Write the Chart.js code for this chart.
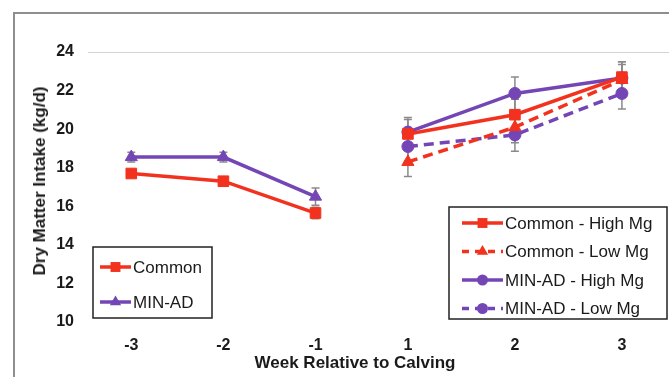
<!DOCTYPE html>
<html>
<head>
<meta charset="utf-8">
<script src="https://cdn.jsdelivr.net/npm/chart.js@4/dist/chart.umd.min.js"></script>
<style>
  body { margin: 0; width: 669px; height: 377px; overflow: hidden; background: #fff; position: relative;
         font-family: "Liberation Sans", Arial, sans-serif; }
  #frame { position: absolute; left: 13px; top: 12px; width: 700px; height: 420px; border: 2px solid #8e8e8e; }
  #left { position: absolute; left: 0; top: 0; }
  #right { position: absolute; left: 333px; top: 0; }
  .title { position: absolute; font-weight: bold; font-size: 17px; color: #1a1a1a; white-space: nowrap; }
  #xtitle { left: 355px; top: 363px; transform: translate(-50%, -50%); }
  #ytitle { left: 40px; top: 181px; transform: translate(-50%, -50%) rotate(-90deg); }
</style>
</head>
<body>
<div id="frame"></div>
<canvas id="left" width="333" height="377"></canvas>
<canvas id="right" width="336" height="377"></canvas>
<div class="title" id="xtitle">Week Relative to Calving</div>
<div class="title" id="ytitle">Dry Matter Intake (kg/d)</div>
<script>
// weeks before calving (left panel) and after calving (right panel)
const leftWeeks  = [-3, -2, -1];
const rightWeeks = [1, 2, 3];

// prepartum, by diet
const common      = [17.7, 17.3, 15.65];
const commonErr   = [0.2, 0.2, 0.3];
const minAd       = [18.55, 18.55, 16.5];
const minAdErr    = [0.25, 0.25, 0.45];

// postpartum, by diet and Mg level
const commonHigh    = [19.75, 20.75, 22.7];
const commonHighErr = [0.75, 0.8, 0.8];
const commonLow     = [18.3, 20.1, 22.55];
const commonLowErr  = [0.75, 0.8, 0.8];
const minAdHigh     = [19.85, 21.85, 22.65];
const minAdHighErr  = [0.75, 0.85, 0.85];
const minAdLow      = [19.1, 19.7, 21.85];
const minAdLowErr   = [0.75, 0.85, 0.8];

const yTicks = [10, 12, 14, 16, 18, 20, 22, 24];

const RED = '#f2321f';
const PURPLE = '#7446b5';
const FONT = '"Liberation Sans", Arial, sans-serif';
const TEXT = '#1a1a1a';

const toPoints = (weeks, vals) => weeks.map((x, i) => ({ x, y: vals[i] }));

function series(label, weeks, vals, errs, color, style, dashed) {
    const radius = { rect: 7.5, triangle: 7, circle: 6 }[style];
    return {
        label,
        data: toPoints(weeks, vals),
        errors: errs,
        borderColor: color,
        backgroundColor: color,
        borderWidth: 3.5,
        borderDash: dashed ? [10, 6] : [],
        pointStyle: style,
        pointRadius: radius,
        pointBorderWidth: 1,
        pointBackgroundColor: color,
        pointBorderColor: color,
        tension: 0
    };
}

// vertical error bars with caps
const errorBars = {
    id: 'errorBars',
    beforeDatasetsDraw(chart) {
        const { ctx, scales: { y } } = chart;
        ctx.save();
        ctx.strokeStyle = '#8a8a8a';
        ctx.lineWidth = 1.5;
        chart.data.datasets.forEach((ds, di) => {
            chart.getDatasetMeta(di).data.forEach((pt, i) => {
                const v = ds.data[i].y, e = ds.errors[i];
                const top = y.getPixelForValue(v + e), bot = y.getPixelForValue(v - e);
                ctx.beginPath();
                ctx.moveTo(pt.x, top); ctx.lineTo(pt.x, bot);
                ctx.moveTo(pt.x - 4, top); ctx.lineTo(pt.x + 4, top);
                ctx.moveTo(pt.x - 4, bot); ctx.lineTo(pt.x + 4, bot);
                ctx.stroke();
            });
        });
        ctx.restore();
    }
};

function marker(ctx, style, r, x, y) {
    ctx.beginPath();
    if (style === 'rect') {
        const s = r * Math.SQRT1_2;
        ctx.rect(x - s, y - s, 2 * s, 2 * s);
    } else if (style === 'triangle') {
        ctx.moveTo(x, y - r);
        ctx.lineTo(x + r * 0.866, y + r * 0.5);
        ctx.lineTo(x - r * 0.866, y + r * 0.5);
        ctx.closePath();
    } else {
        ctx.arc(x, y, r, 0, Math.PI * 2);
    }
    ctx.fill();
}

// boxed legend drawn inside the plot
const boxLegend = {
    id: 'boxLegend',
    afterDatasetsDraw(chart, args, o) {
        const ctx = chart.ctx;
        ctx.save();
        ctx.fillStyle = '#fff';
        ctx.fillRect(o.x, o.y, o.w, o.h);
        ctx.strokeStyle = '#222';
        ctx.lineWidth = 1.5;
        ctx.strokeRect(o.x, o.y, o.w, o.h);
        ctx.font = `17px ${FONT}`;
        ctx.textBaseline = 'middle';
        chart.data.datasets.forEach((ds, i) => {
            const cy = o.y + o.first + i * o.gap;
            const x0 = o.x + o.pad, x1 = x0 + o.line;
            ctx.strokeStyle = ds.borderColor;
            ctx.lineWidth = ds.borderWidth;
            ctx.setLineDash(ds.borderDash.length ? [7, 6] : []);
            ctx.beginPath(); ctx.moveTo(x0, cy); ctx.lineTo(x1, cy); ctx.stroke();
            ctx.setLineDash([]);
            ctx.fillStyle = ds.borderColor;
            marker(ctx, ds.pointStyle, ds.pointRadius - 0.5, (x0 + x1) / 2, cy);
            ctx.fillStyle = TEXT;
            ctx.fillText(ds.label, x1 + 2, cy + 1);
        });
        ctx.restore();
    }
};

function yAxis(visible) {
    return {
        min: 10, max: 24,
        afterBuildTicks: s => { s.ticks = yTicks.map(value => ({ value })); },
        afterFit: s => { s.width = visible ? 88 : 0; },
        ticks: { padding: 14, color: visible ? TEXT : 'rgba(0,0,0,0)',
                 font: { family: FONT, size: 16, weight: 'bold' } },
        grid: { drawTicks: false,
                color: c => c.tick && c.tick.value === 24 ? '#d4d4d4' : 'rgba(0,0,0,0)' },
        border: { display: false }
    };
}

function xAxis(weeks, min, max) {
    return {
        type: 'linear', min, max,
        afterBuildTicks: s => { s.ticks = weeks.map(value => ({ value })); },
        afterFit: s => { s.height = 55; s.paddingLeft = 0; s.paddingRight = 0; },
        ticks: { padding: 6, color: TEXT, font: { family: FONT, size: 16, weight: 'bold' } },
        grid: { display: false },
        border: { display: false }
    };
}

function makeChart(id, datasets, x, yVisible, legend) {
    return new Chart(document.getElementById(id), {
        type: 'line',
        data: { datasets },
        options: {
            responsive: false,
            animation: false,
            layout: { autoPadding: false, padding: { top: 52, left: 0, right: 0, bottom: 0 } },
            scales: { x, y: yAxis(yVisible) },
            plugins: { legend: { display: false }, tooltip: { enabled: false }, boxLegend: legend }
        },
        plugins: [errorBars, boxLegend]
    });
}

makeChart('left', [
    series('Common', leftWeeks, common, commonErr, RED, 'rect', false),
    series('MIN-AD', leftWeeks, minAd, minAdErr, PURPLE, 'triangle', false)
], xAxis(leftWeeks, -3.47, -0.81), true,
{ x: 93, y: 247, w: 119, h: 71, first: 20, gap: 35, pad: 7, line: 31 });

makeChart('right', [
    series('Common - High Mg', rightWeeks, commonHigh, commonHighErr, RED, 'rect', false),
    series('Common - Low Mg', rightWeeks, commonLow, commonLowErr, RED, 'triangle', true),
    series('MIN-AD - High Mg', rightWeeks, minAdHigh, minAdHighErr, PURPLE, 'circle', false),
    series('MIN-AD - Low Mg', rightWeeks, minAdLow, minAdLowErr, PURPLE, 'circle', true)
], xAxis(rightWeeks, 0.3, 3.44), false,
{ x: 116, y: 207, w: 218, h: 112, first: 16, gap: 28.5, pad: 13, line: 41 });
</script>
</body>
</html>
